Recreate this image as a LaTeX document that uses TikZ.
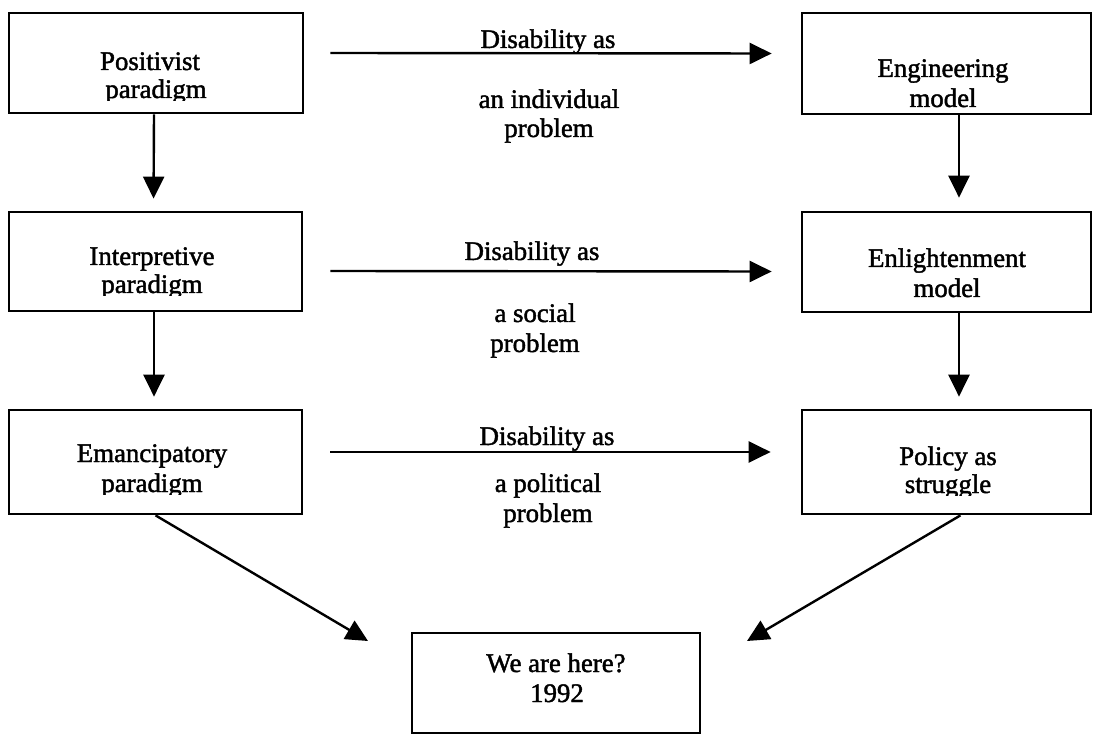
\documentclass[tikz,border=0pt]{standalone}
\usepackage{fontspec}
\setmainfont{Liberation Serif}
\newfontfamily\printfont{Liberation Serif}[FakeBold=1.6]
\usetikzlibrary{arrows.meta}
\begin{document}
\begin{tikzpicture}[x=1pt,y=-1pt,
  box/.style={draw, line width=2.7pt, inner sep=0pt},
  lbl/.style={anchor=base, inner sep=0pt, font=\printfont\fontsize{26.8}{30}\selectfont},
  arr/.style={line width=2.4pt, -{Triangle[length=22pt,width=21pt]}}]
\useasboundingbox (0,0) rectangle (1093,735);

% left column: paradigms
\node[box, minimum width=294pt, minimum height=100pt] (pos) at (156,63) {};
\node[box, minimum width=293pt, minimum height=99pt]  (int) at (155.5,261.5) {};
\node[box, minimum width=293pt, minimum height=104pt] (ema) at (155.5,462) {};
% right column: models
\node[box, minimum width=289pt, minimum height=101pt] (eng) at (946.5,63.5) {};
\node[box, minimum width=289pt, minimum height=100pt] (enl) at (946.5,262) {};
\node[box, minimum width=289pt, minimum height=104pt] (pol) at (946.5,462) {};
% bottom box
\node[box, minimum width=288pt, minimum height=100pt] (here) at (556,683) {};

% box texts (second lines sit on the lower edge of the text frame)
\node[lbl] (posA) at (150,70) {Positivist};
\begin{scope}
  \clip (0,0) rectangle (400,100.5);
  \node[lbl] (posB) at (156,98) {paradigm};
\end{scope}
\node[lbl] (intA) at (152,265) {Interpretive};
\begin{scope}
  \clip (0,200) rectangle (400,295.5);
  \node[lbl] (intB) at (152,293) {paradigm};
\end{scope}
\node[lbl] (emaA) at (152,462) {Emancipatory};
\begin{scope}
  \clip (0,400) rectangle (400,494.5);
  \node[lbl] (emaB) at (152,492) {paradigm};
\end{scope}
\node[lbl] (engA) at (943,77) {Engineering};
\node[lbl] (engB) at (943,107) {model};
\node[lbl] (enlA) at (947,267) {Enlightenment};
\node[lbl] (enlB) at (947,297) {model};
\node[lbl] (polA) at (948,465) {Policy as};
\begin{scope}
  \clip (700,400) rectangle (1093,495.5);
  \node[lbl] (polB) at (948,493) {struggle};
\end{scope}
\node[lbl] (hereA) at (556,672) {We are here?};
\node[lbl] (hereB) at (557,702) {1992};

% arrow labels
\node[lbl] (d1) at (548,48) {Disability as};
\node[lbl] (d1a) at (549,108) {an individual};
\node[lbl] (d1b) at (549,137) {problem};
\node[lbl] (d2) at (532,260) {Disability as};
\node[lbl] (d2a) at (535,322) {a social};
\node[lbl] (d2b) at (535,352) {problem};
\node[lbl] (d3) at (547,445) {Disability as};
\node[lbl] (d3a) at (548,492) {a political};
\node[lbl] (d3b) at (548,522) {problem};

% horizontal connectors
\draw[arr] ([xshift=26pt,yshift=10pt]pos.east) -- ([xshift=-29pt,yshift=10pt]eng.west);
\draw[arr] ([xshift=27pt,yshift=-9.5pt]int.east) -- ([xshift=-29pt,yshift=-9.5pt]enl.west);
\draw[arr] ([xshift=27pt,yshift=10pt]ema.east) -- ([xshift=-30pt,yshift=10pt]pol.west);

% vertical connectors
\draw[arr, shorten >=12pt] ([xshift=-2pt]pos.south) -- ([xshift=-2pt]int.north);
\draw[arr, shorten >=12pt] ([xshift=-1.5pt]int.south) -- ([xshift=-1.5pt]ema.north);
\draw[arr, shorten >=13pt] ([xshift=12.5pt]eng.south) -- ([xshift=12.5pt]enl.north);
\draw[arr, shorten >=12pt] ([xshift=12.5pt]enl.south) -- ([xshift=12.5pt]pol.north);

% converging connectors
\coordinate (hereL) at (368,641);
\coordinate (hereR) at (747,641);
\draw[arr] (ema.south) -- (hereL);
\draw[arr] ([xshift=14pt]pol.south) -- (hereR);
\end{tikzpicture}
\end{document}
